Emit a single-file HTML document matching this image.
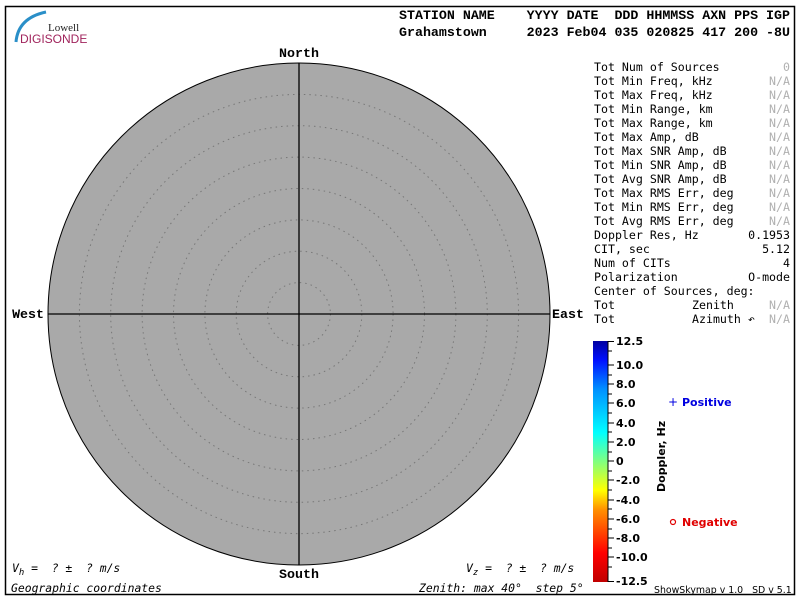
<!DOCTYPE html>
<html><head><meta charset="utf-8"><style>
html,body{margin:0;padding:0;background:#fff;}
svg{display:block;}
.m{font-family:"DejaVu Sans Mono","Liberation Mono",monospace;font-size:11.6px;fill:#000;}
.g{fill:#b0b0b0;}
.h{font-family:"Liberation Mono",monospace;font-weight:bold;font-size:13.3px;}
.b{font-family:"DejaVu Sans",sans-serif;font-weight:bold;font-size:11px;}
.c{font-family:"DejaVu Sans Mono",monospace;font-size:11.4px;font-style:oblique;}
</style></head><body>
<svg width="800" height="600" viewBox="0 0 800 600" xmlns="http://www.w3.org/2000/svg">
<defs>
<linearGradient id="jet" x1="0" y1="1" x2="0" y2="0">
<stop offset="0" stop-color="#c00000"/>
<stop offset="0.12" stop-color="#ff0000"/>
<stop offset="0.3" stop-color="#ff9000"/>
<stop offset="0.38" stop-color="#ffff00"/>
<stop offset="0.5" stop-color="#80ff80"/>
<stop offset="0.62" stop-color="#00ffff"/>
<stop offset="0.8" stop-color="#0090ff"/>
<stop offset="0.92" stop-color="#0010ff"/>
<stop offset="1" stop-color="#0000a0"/>
</linearGradient>
</defs>
<rect x="5.5" y="6.5" width="789" height="588" fill="none" stroke="#000" stroke-width="1.5"/>
<path d="M16 42 Q18 18 46 12" fill="none" stroke="#2a8fc8" stroke-width="3"/>
<text x="48" y="31" font-family="Liberation Serif,serif" font-size="11" fill="#222">Lowell</text>
<text x="20" y="43" font-family="Liberation Sans,sans-serif" font-size="12" fill="#a0245c">DIGISONDE</text>
<text x="399" y="19" class="h" xml:space="preserve">STATION NAME    YYYY DATE  DDD HHMMSS AXN PPS IGP</text>
<text x="399" y="36" class="h" xml:space="preserve">Grahamstown     2023 Feb04 035 020825 417 200 -8U</text>
<circle cx="299" cy="314" r="251" fill="#a9a9a9" stroke="#000" stroke-width="1"/>
<g fill="none" stroke="#777" stroke-width="1" stroke-dasharray="1.5 4">
<circle cx="299" cy="314" r="31.4"/><circle cx="299" cy="314" r="62.8"/>
<circle cx="299" cy="314" r="94.1"/><circle cx="299" cy="314" r="125.5"/>
<circle cx="299" cy="314" r="156.9"/><circle cx="299" cy="314" r="188.3"/>
<circle cx="299" cy="314" r="219.6"/>
</g>
<line x1="48" y1="314" x2="550" y2="314" stroke="#000" stroke-width="1.3"/>
<line x1="299" y1="63" x2="299" y2="565" stroke="#000" stroke-width="1.3"/>
<text x="299" y="57" class="h" text-anchor="middle" font-size="12.5">North</text>
<text x="299" y="578" class="h" text-anchor="middle" font-size="12.5">South</text>
<text x="44" y="318" class="h" text-anchor="end" font-size="12.5">West</text>
<text x="552" y="318" class="h" font-size="12.5">East</text>
<g class="m" xml:space="preserve">
<text x="594" y="71">Tot Num of Sources</text><text x="790" y="71" text-anchor="end" class="m g">0</text>
<text x="594" y="85">Tot Min Freq, kHz</text><text x="790" y="85" text-anchor="end" class="m g">N/A</text>
<text x="594" y="99">Tot Max Freq, kHz</text><text x="790" y="99" text-anchor="end" class="m g">N/A</text>
<text x="594" y="113">Tot Min Range, km</text><text x="790" y="113" text-anchor="end" class="m g">N/A</text>
<text x="594" y="127">Tot Max Range, km</text><text x="790" y="127" text-anchor="end" class="m g">N/A</text>
<text x="594" y="141">Tot Max Amp, dB</text><text x="790" y="141" text-anchor="end" class="m g">N/A</text>
<text x="594" y="155">Tot Max SNR Amp, dB</text><text x="790" y="155" text-anchor="end" class="m g">N/A</text>
<text x="594" y="169">Tot Min SNR Amp, dB</text><text x="790" y="169" text-anchor="end" class="m g">N/A</text>
<text x="594" y="183">Tot Avg SNR Amp, dB</text><text x="790" y="183" text-anchor="end" class="m g">N/A</text>
<text x="594" y="197">Tot Max RMS Err, deg</text><text x="790" y="197" text-anchor="end" class="m g">N/A</text>
<text x="594" y="211">Tot Min RMS Err, deg</text><text x="790" y="211" text-anchor="end" class="m g">N/A</text>
<text x="594" y="225">Tot Avg RMS Err, deg</text><text x="790" y="225" text-anchor="end" class="m g">N/A</text>
<text x="594" y="239">Doppler Res, Hz</text><text x="790" y="239" text-anchor="end">0.1953</text>
<text x="594" y="253">CIT, sec</text><text x="790" y="253" text-anchor="end">5.12</text>
<text x="594" y="267">Num of CITs</text><text x="790" y="267" text-anchor="end">4</text>
<text x="594" y="281">Polarization</text><text x="790" y="281" text-anchor="end">O-mode</text>
<text x="594" y="295">Center of Sources, deg:</text>
<text x="594" y="309">Tot</text><text x="692" y="309">Zenith</text><text x="790" y="309" text-anchor="end" class="m g">N/A</text>
<text x="594" y="323">Tot</text><text x="692" y="323">Azimuth ↶</text><text x="790" y="323" text-anchor="end" class="m g">N/A</text>
</g>
<rect x="593" y="341" width="15" height="241" fill="url(#jet)"/>
<g stroke="#000" stroke-width="1">
<line x1="608" y1="341" x2="608" y2="582"/>
<line x1="608" y1="341.5" x2="614" y2="341.5"/><line x1="608" y1="351" x2="612" y2="351"/>
<line x1="608" y1="365" x2="614" y2="365"/><line x1="608" y1="375" x2="612" y2="375"/>
<line x1="608" y1="384" x2="614" y2="384"/><line x1="608" y1="394" x2="612" y2="394"/>
<line x1="608" y1="403" x2="614" y2="403"/><line x1="608" y1="413" x2="612" y2="413"/>
<line x1="608" y1="423" x2="614" y2="423"/><line x1="608" y1="432" x2="612" y2="432"/>
<line x1="608" y1="442" x2="614" y2="442"/><line x1="608" y1="452" x2="612" y2="452"/>
<line x1="608" y1="461" x2="614" y2="461"/><line x1="608" y1="471" x2="612" y2="471"/>
<line x1="608" y1="480" x2="614" y2="480"/><line x1="608" y1="490" x2="612" y2="490"/>
<line x1="608" y1="500" x2="614" y2="500"/><line x1="608" y1="509" x2="612" y2="509"/>
<line x1="608" y1="519" x2="614" y2="519"/><line x1="608" y1="529" x2="612" y2="529"/>
<line x1="608" y1="538" x2="614" y2="538"/><line x1="608" y1="548" x2="612" y2="548"/>
<line x1="608" y1="557" x2="614" y2="557"/><line x1="608" y1="567" x2="612" y2="567"/>
<line x1="608" y1="581.5" x2="614" y2="581.5"/>
</g>
<g class="b">
<text x="616" y="345">12.5</text><text x="616" y="369">10.0</text>
<text x="616" y="388">8.0</text><text x="616" y="407">6.0</text>
<text x="616" y="427">4.0</text><text x="616" y="446">2.0</text>
<text x="616" y="465">0</text><text x="616" y="484">-2.0</text>
<text x="616" y="504">-4.0</text><text x="616" y="523">-6.0</text>
<text x="616" y="542">-8.0</text><text x="616" y="561">-10.0</text>
<text x="616" y="585">-12.5</text>
</g>
<text transform="translate(665,492) rotate(-90)" class="b" font-size="8.5">Doppler, Hz</text>
<text x="668" y="406" font-family="DejaVu Sans,sans-serif" font-size="12" fill="#0000e0">+</text>
<text x="682" y="406" class="b" font-size="10.5" fill="#0000e0">Positive</text>
<circle cx="673" cy="522" r="2.5" fill="none" stroke="#e00000" stroke-width="1.2"/>
<text x="682" y="526" class="b" font-size="10.5" fill="#e00000">Negative</text>
<text x="12" y="572" class="c" xml:space="preserve">V<tspan font-size="9" dy="3">h</tspan><tspan dy="-3"> =  ? ±  ? m/s</tspan></text>
<text x="466" y="572" class="c" xml:space="preserve">V<tspan font-size="9" dy="3">z</tspan><tspan dy="-3"> =  ? ±  ? m/s</tspan></text>
<text x="11" y="592" class="c">Geographic coordinates</text>
<text x="419" y="592" class="c" xml:space="preserve">Zenith: max 40°  step 5°</text>
<text x="654" y="593" font-family="DejaVu Sans,sans-serif" font-size="9.4" xml:space="preserve">ShowSkymap v 1.0   SD v 5.1</text>
</svg>
</body></html>
